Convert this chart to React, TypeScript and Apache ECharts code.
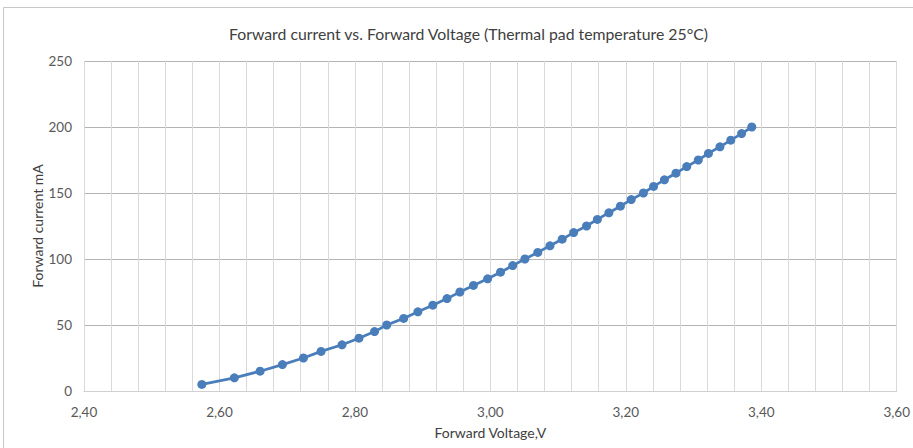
import React, { useEffect, useRef } from "react";
import * as echarts from "echarts";

// Forward voltage (V) measured at each forward current step
const forwardVoltage = [
  2.574, 2.622, 2.66, 2.693, 2.724, 2.75, 2.781, 2.806, 2.829, 2.847,
  2.872, 2.893, 2.915, 2.936, 2.955, 2.975, 2.996, 3.015, 3.033, 3.051,
  3.07, 3.088, 3.106, 3.123, 3.142, 3.158, 3.175, 3.192, 3.208, 3.226,
  3.241, 3.257, 3.274, 3.29, 3.307, 3.322, 3.339, 3.355, 3.371, 3.386,
];

// Forward current (mA)
const forwardCurrent = [
  5, 10, 15, 20, 25, 30, 35, 40, 45, 50,
  55, 60, 65, 70, 75, 80, 85, 90, 95, 100,
  105, 110, 115, 120, 125, 130, 135, 140, 145, 150,
  155, 160, 165, 170, 175, 180, 185, 190, 195, 200,
];

const titleText = "Forward current vs. Forward Voltage (Thermal pad temperature 25°C)";
const xName = "Forward Voltage,V";
const yName = "Forward current mA";

const FONT = "Lato, 'Open Sans', sans-serif";

export default function App() {
  const ref = useRef<HTMLDivElement>(null);

  useEffect(() => {
    if (!ref.current) return;
    const chart = echarts.init(ref.current, undefined, { renderer: "svg" });
    const points = forwardVoltage.map((v, i) => [v, forwardCurrent[i]]);

    chart.setOption({
      animation: false,
      backgroundColor: "#ffffff",
      textStyle: { fontFamily: FONT },
      title: {
        text: titleText,
        left: 224,
        top: 20,
        textStyle: { fontFamily: FONT, fontSize: 15.8, fontWeight: "normal", color: "#404040" },
      },
      graphic: [
        {
          type: "rect",
          shape: { x: 3.5, y: 7.5, width: 1000, height: 1000 },
          style: { fill: "none", stroke: "#c8c8c8", lineWidth: 1 },
          silent: true,
        },
      ],
      grid: { left: 84, right: 13, top: 61, bottom: 57 },
      xAxis: {
        type: "value",
        min: 2.4,
        max: 3.6,
        interval: 0.2,
        name: xName,
        nameLocation: "middle",
        nameGap: 34,
        nameTextStyle: { fontFamily: FONT, fontSize: 14, color: "#404040" },
        axisLine: { show: true, lineStyle: { color: "#d0d0d0", width: 1 } },
        axisTick: { show: false },
        axisLabel: {
          fontFamily: FONT,
          fontSize: 13.5,
          color: "#595959",
          margin: 14,
          formatter: (v: number) => v.toFixed(2).replace(".", ","),
        },
        splitLine: { show: true, lineStyle: { color: "#d9d9d9", width: 1 } },
        minorTick: { show: false, splitNumber: 5 },
        minorSplitLine: { show: true, lineStyle: { color: "#d9d9d9", width: 1 } },
      },
      yAxis: {
        type: "value",
        min: 0,
        max: 250,
        interval: 50,
        name: yName,
        nameLocation: "middle",
        nameGap: 40,
        nameMoveOverlap: false,
        nameTextStyle: { fontFamily: FONT, fontSize: 14, color: "#404040" },
        axisLine: { show: false },
        axisTick: { show: false },
        axisLabel: { fontFamily: FONT, fontSize: 13.5, color: "#595959", margin: 12 },
        splitLine: { show: true, lineStyle: { color: "#b4b4b4", width: 1 } },
      },
      series: [
        {
          type: "line",
          data: points,
          symbol: "circle",
          symbolSize: 9,
          lineStyle: { color: "#4a7ebb", width: 2.75 },
          itemStyle: { color: "#4a7ebb" },
        },
      ],
    });

    return () => chart.dispose();
  }, []);

  return (
    <div
      ref={ref}
      style={{ position: "fixed", left: 0, top: 0, width: 913, height: 448 }}
    />
  );
}
